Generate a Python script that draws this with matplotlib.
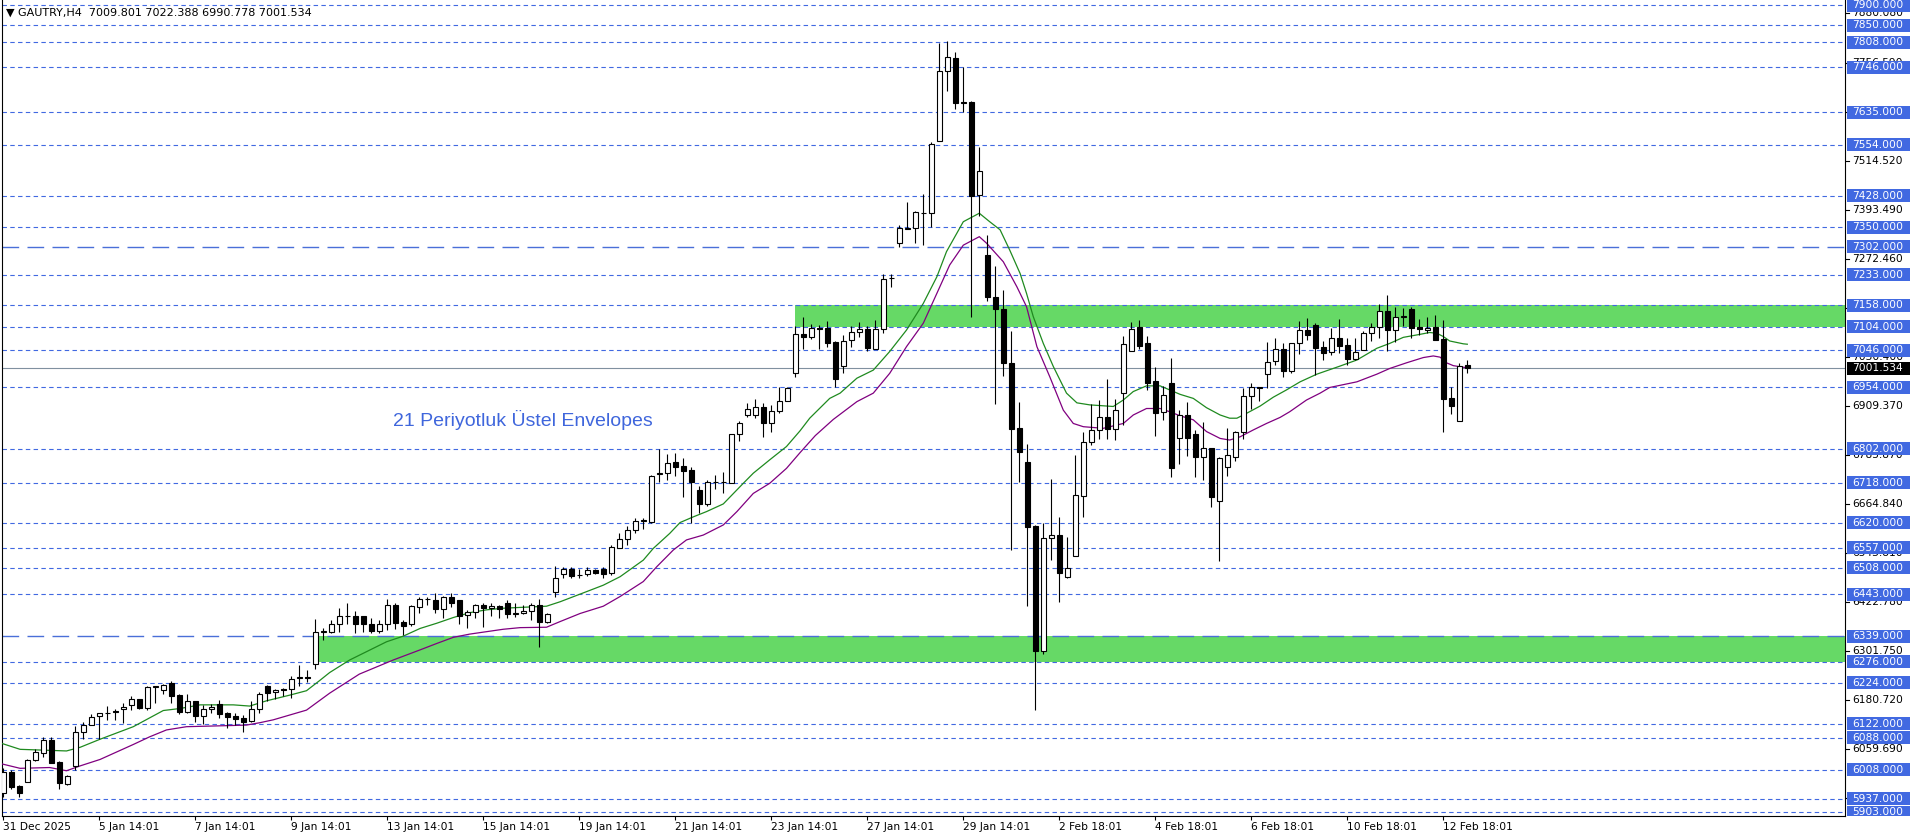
import matplotlib
matplotlib.use("Agg")
import matplotlib.pyplot as plt
from matplotlib.patches import Rectangle

# ---- GAUTRY H4 bars ----
opens = [5950, 6002, 5968, 5977, 6032, 6051, 6081, 6028, 5973, 6018,
         6101, 6118, 6141, 6148, 6153, 6158, 6168, 6183, 6162, 6214,
         6206, 6224, 6194, 6152, 6178, 6142, 6158, 6171, 6150, 6141,
         6136, 6128, 6158, 6216, 6200, 6209, 6207, 6235, 6239, 6269,
         6350, 6348, 6368, 6389, 6389, 6389, 6370, 6352, 6369, 6417,
         6373, 6370, 6412, 6430, 6428, 6405, 6436, 6428, 6391, 6399,
         6415, 6408, 6413, 6422, 6394, 6395, 6402, 6415, 6375, 6449,
         6493, 6505, 6490, 6493, 6502, 6505, 6496, 6558, 6578, 6601,
         6624, 6622, 6740, 6742, 6769, 6759, 6750, 6700, 6665, 6720,
         6720, 6718, 6838, 6886, 6887, 6905, 6865, 6895, 6920, 6991,
         7086, 7078, 7100, 7100, 7066, 7006, 7071, 7092, 7098, 7048,
         7098, 7224, 7311, 7345, 7348, 7386, 7385, 7564, 7736, 7768,
         7659, 7661, 7429, 7282, 7177, 7148, 7014, 6853, 6770, 6611,
         6303, 6581, 6589, 6486, 6536, 6686, 6818, 6848, 6880, 6851,
         6940, 7045, 7103, 7063, 6970, 6893, 6964, 6828, 6885, 6838,
         6781, 6804, 6674, 6757, 6783, 6843, 6932, 6954, 6987, 7020,
         7048, 6996, 7063, 7096, 7108, 7053, 7041, 7076, 7059, 7024,
         7047, 7088, 7103, 7144, 7095, 7129, 7147, 7103, 7095, 7104,
         7073, 6928, 6872, 7009.801]
highs = [6014, 6008, 5971, 6035, 6061, 6090, 6090, 6031, 5995, 6117,
         6126, 6146, 6148, 6167, 6158, 6173, 6192, 6184, 6216, 6216,
         6220, 6228, 6196, 6196, 6179, 6169, 6172, 6181, 6152, 6150,
         6144, 6179, 6202, 6217, 6208, 6211, 6240, 6267, 6255, 6381,
         6358, 6379, 6408, 6420, 6401, 6390, 6385, 6379, 6430, 6422,
         6380, 6416, 6436, 6436, 6445, 6438, 6445, 6429, 6403, 6418,
         6422, 6422, 6415, 6428, 6420, 6415, 6422, 6430, 6397, 6512,
         6509, 6509, 6504, 6509, 6504, 6511, 6564, 6593, 6611, 6631,
         6632, 6737, 6803, 6789, 6793, 6779, 6758, 6710, 6725, 6737,
         6746, 6840, 6871, 6915, 6925, 6915, 6910, 6956, 6956, 7106,
         7129, 7111, 7109, 7119, 7070, 7084, 7107, 7115, 7106, 7121,
         7235, 7235, 7356, 7414, 7391, 7433, 7562, 7807, 7812, 7785,
         7746, 7663, 7548, 7331, 7255, 7195, 7094, 6918, 6814, 6614,
         6618, 6728, 6634, 6585, 6787, 6844, 6913, 6923, 6974, 6926,
         7081, 7117, 7121, 7081, 7004, 6958, 7026, 6898, 6917, 6849,
         6868, 6804, 6781, 6855, 6846, 6952, 6964, 6954, 7066, 7076,
         7065, 7063, 7118, 7127, 7113, 7069, 7102, 7123, 7077, 7077,
         7094, 7113, 7160, 7183, 7152, 7151, 7154, 7123, 7129, 7133,
         7121, 6956, 7015, 7022.388]
lows = [5942, 5960, 5940, 5977, 6031, 6041, 6024, 5962, 5971, 6008,
        6084, 6118, 6084, 6131, 6131, 6123, 6157, 6158, 6156, 6174,
        6195, 6174, 6147, 6150, 6127, 6122, 6150, 6136, 6111, 6119,
        6101, 6127, 6150, 6178, 6183, 6192, 6185, 6216, 6226, 6257,
        6329, 6346, 6350, 6369, 6346, 6350, 6346, 6346, 6354, 6356,
        6342, 6364, 6397, 6416, 6397, 6385, 6410, 6369, 6360, 6385,
        6362, 6389, 6385, 6385, 6387, 6394, 6379, 6313, 6372, 6436,
        6482, 6484, 6484, 6488, 6493, 6482, 6490, 6556, 6564, 6593,
        6605, 6619, 6719, 6725, 6736, 6684, 6619, 6644, 6662, 6702,
        6694, 6717, 6822, 6880, 6879, 6831, 6845, 6890, 6920, 6979,
        7048, 7075, 7048, 7053, 6954, 6991, 7053, 7078, 7043, 7048,
        7088, 7203, 7302, 7345, 7311, 7306, 7352, 7564, 7687, 7642,
        7636, 7128, 7377, 7169, 6912, 6982, 6552, 6721, 6414, 6156,
        6295, 6527, 6423, 6484, 6536, 6634, 6812, 6827, 6826, 6824,
        6861, 7043, 7049, 6949, 6834, 6874, 6733, 6764, 6785, 6733,
        6724, 6658, 6526, 6736, 6771, 6826, 6900, 6921, 6952, 7010,
        6981, 6991, 7038, 7071, 6985, 7022, 7034, 7040, 7010, 7022,
        7047, 7070, 7077, 7043, 7067, 7107, 7076, 7084, 7088, 7071,
        6845, 6888, 6872, 6990.778]
closes = [6002, 5965, 5952, 6032, 6052, 6081, 6026, 5975, 5992, 6101,
          6118, 6140, 6148, 6150, 6152, 6164, 6183, 6162, 6213, 6215,
          6218, 6192, 6152, 6178, 6142, 6159, 6164, 6147, 6140, 6135,
          6127, 6158, 6196, 6199, 6205, 6205, 6234, 6237, 6236, 6348,
          6351, 6368, 6389, 6390, 6368, 6370, 6352, 6368, 6417, 6372,
          6364, 6413, 6430, 6431, 6405, 6436, 6420, 6389, 6399, 6415,
          6408, 6413, 6405, 6394, 6395, 6402, 6415, 6375, 6394, 6482,
          6504, 6488, 6491, 6502, 6496, 6493, 6559, 6578, 6601, 6623,
          6626, 6736, 6742, 6768, 6758, 6748, 6721, 6665, 6719, 6721,
          6721, 6838, 6865, 6901, 6906, 6865, 6895, 6920, 6952, 7086,
          7078, 7100, 7099, 7065, 6976, 7070, 7092, 7098, 7051, 7098,
          7222, 7225, 7348, 7348, 7387, 7385, 7555, 7736, 7771, 7657,
          7658, 7428, 7490, 7177, 7147, 7014, 6852, 6795, 6610, 6303,
          6581, 6588, 6496, 6507, 6687, 6818, 6848, 6880, 6851, 6898,
          7061, 7098, 7057, 6966, 6892, 6935, 6754, 6885, 6828, 6783,
          6804, 6684, 6779, 6786, 6843, 6932, 6954, 6952, 7016, 7048,
          6996, 7063, 7096, 7084, 7052, 7040, 7076, 7057, 7024, 7041,
          7088, 7103, 7144, 7095, 7129, 7130, 7102, 7099, 7102, 7071,
          6926, 6907, 7008, 7001.534]

date_labels = ["31 Dec 2025", "5 Jan 14:01", "7 Jan 14:01", "9 Jan 14:01",
               "13 Jan 14:01", "15 Jan 14:01", "19 Jan 14:01", "21 Jan 14:01",
               "23 Jan 14:01", "27 Jan 14:01", "29 Jan 14:01", "2 Feb 18:01",
               "4 Feb 18:01", "6 Feb 18:01", "10 Feb 18:01", "12 Feb 18:01"]

# 21 period exponential envelopes (green upper / purple lower)
env_up_x = [-0.4, 2.1, 5, 7.9, 9.6, 12.1, 16.25, 20, 22.1, 24.6, 28.75, 30.8, 32.9,
            35.8, 37.9, 39.6, 40.8, 43.3, 47.9, 50, 52.1, 54.2, 56.25, 58.3, 60.4,
            62.5, 64.6, 67.9, 69.6, 72.9, 75, 77.1, 80, 81.25, 83.3, 84.6, 86.25,
            87.9, 90, 92.5, 93.75, 95.8, 97.9, 99.6, 100.8, 103.3, 104.6, 106.7,
            108.75, 110.8, 112.9, 115, 116.7, 117.9, 120, 122, 123.3, 124.6, 125.8,
            127.1, 127.9, 128.75, 130, 131.25, 132.9, 134.2, 135.8, 138.75, 140,
            141.25, 142.9, 144.6, 145.8, 147.1, 148.75, 150.4, 152.1, 153.3, 154.2,
            155.4, 157.1, 158.75, 160.4, 162.1, 164.2, 167.1, 169.2, 171.7, 173.3,
            175, 176.7, 178.3, 179.2, 180, 180.8, 182.5, 183]
env_up = [6075, 6059, 6057, 6055, 6064, 6084, 6115, 6155, 6160, 6169, 6169, 6166, 6179,
          6193, 6204, 6230, 6249, 6280, 6325, 6339, 6358, 6371, 6385, 6397, 6404,
          6408, 6410, 6413, 6424, 6449, 6465, 6486, 6527, 6556, 6593, 6620, 6634,
          6647, 6666, 6717, 6742, 6775, 6808, 6847, 6878, 6927, 6940, 6977,
          6997, 7043, 7096, 7162, 7228, 7290, 7364, 7385, 7364, 7344, 7294,
          7236, 7187, 7129, 7063, 7006, 6940, 6916, 6911, 6907, 6923,
          6944, 6958, 6958, 6948, 6937, 6927, 6904, 6886, 6878, 6878,
          6890, 6908, 6930, 6948, 6968, 6987, 7007, 7022, 7051, 7063,
          7078, 7084, 7090, 7088, 7080, 7069, 7062, 7061]
env_dn_x = [-0.4, 2.1, 5.8, 7.9, 9.6, 12.1, 16.25, 18.3, 20.4, 22.9, 28.75, 30.4, 32.1,
            33.75, 37.9, 40.8, 44.5, 48.75, 52.1, 54.2, 56.25, 58.3, 60.4, 62.5, 64.6,
            67.9, 69.6, 72.1, 75, 77.1, 80, 81.7, 83.75, 85.4, 87.5, 90, 91.7, 93.75,
            95.8, 97.9, 99.6, 101.5, 103.75, 106.7, 108.75, 110.8, 112.9, 115, 116.7,
            118.3, 120, 122, 122.9, 125, 126.7, 127.9, 129.2, 130.8, 132.5, 133.75,
            135, 137.5, 140, 141.25, 142.9, 144.6, 145.8, 147.1, 148.75, 150.4, 152.1,
            153.3, 154.6, 156.25, 157.9, 159.6, 160.8, 162.9, 164.6, 165.8, 169.2,
            171.7, 173.3, 175.4, 177.5, 178.75, 179.6, 180.4, 181.25, 182.5, 183]
env_dn = [6024, 6012, 6014, 6006, 6018, 6034, 6071, 6090, 6107, 6115, 6118, 6119, 6125,
          6132, 6156, 6198, 6245, 6280, 6305, 6321, 6336, 6344, 6350, 6356, 6360,
          6361, 6375, 6395, 6413, 6437, 6474, 6511, 6552, 6577, 6589, 6614, 6647, 6692,
          6717, 6754, 6793, 6835, 6875, 6919, 6940, 6989, 7055, 7113, 7187,
          7257, 7306, 7327, 7311, 7265, 7203, 7154, 7055, 6981, 6898, 6865,
          6857, 6853, 6865, 6886, 6902, 6902, 6894, 6884, 6874, 6845, 6828,
          6824, 6832, 6849, 6865, 6880, 6894, 6923, 6940, 6954, 6968,
          6987, 7001, 7015, 7028, 7032, 7029, 7015, 7008, 7004, 7003]

# horizontal line objects
dotted_levels = [7900, 7850, 7808, 7746, 7635, 7554, 7428, 7350, 7233, 7158, 7104,
                 7046, 6954, 6802, 6718, 6620, 6557, 6508, 6443, 6276, 6224, 6122,
                 6088, 6008, 5937, 5903]
dashed_levels = [7302, 6339]
# rectangles: start bar, low, high
zone_start = [99, 39.4]
zone_low = [7104, 6276]
zone_high = [7158, 6339]
# price scale labels
scale_ticks = [7880.080, 7756.590, 7635.550, 7514.520, 7393.490, 7272.460, 7151.430,
               7030.400, 6909.370, 6785.870, 6664.840, 6543.810, 6422.780, 6301.750,
               6180.720, 6059.690, 5938.660]
last_price = 7001.534
title = "\u25bc GAUTRY,H4  7009.801 7022.388 6990.778 7001.534"

# ---- layout (pixels) ----
W, H = 1916, 840
plot_l, plot_r, plot_b = 2, 1845, 816
bar_px, bar0_px = 8, 3.3
y_top, y_bot = 7912.4, 5894.1
ppu = plot_b / (y_top - y_bot)

blue = "#4169e1"
fig = plt.figure(figsize=(W / 100, H / 100), dpi=100)
ax = fig.add_axes([plot_l / W, (H - plot_b) / H, (plot_r - plot_l) / W, plot_b / H])
ax.set_xlim((plot_l - bar0_px) / bar_px, (plot_r - bar0_px) / bar_px)
ax.set_ylim(y_bot, y_top)

for s, lo, hi in zip(zone_start, zone_low, zone_high):
    ax.add_patch(Rectangle((s, lo), 500, hi - lo, facecolor="#66d966",
                           edgecolor="none", zorder=1))
for v in dotted_levels:
    ax.axhline(v, color=blue, lw=0.8, ls=(0, (4, 3)), zorder=2)
for v in dashed_levels:
    ax.axhline(v, color="#4a6fd8", lw=1.0, ls=(0, (12, 6)), zorder=2)
ax.axhline(last_price, color="#8090a0", lw=0.8, zorder=2)

ax.plot(env_up_x, env_up, color="#1f8a1f", lw=0.9, zorder=3)
ax.plot(env_dn_x, env_dn, color="#800080", lw=0.9, zorder=3)

for i, (o, h, l, c) in enumerate(zip(opens, highs, lows, closes)):
    ax.vlines(i, l, h, color="black", lw=0.8, zorder=4)
    face = "white" if c >= o else "black"
    ax.add_patch(Rectangle((i - 0.28, min(o, c)), 0.56, abs(c - o), facecolor=face,
                           edgecolor="black", lw=0.8, zorder=5))

ax.set_xticks(range(0, len(date_labels) * 12, 12))
ax.set_xticklabels(date_labels, ha="left")
ax.tick_params(axis="x", length=3, width=0.8, pad=1.5, labelsize=7.7)
ax.set_yticks([])
ax.spines["top"].set_visible(False)
for s in ("left", "bottom", "right"):
    ax.spines[s].set_linewidth(0.8)

# right price scale
rax = fig.add_axes([plot_r / W, (H - plot_b) / H, (W - plot_r) / W, plot_b / H])
rax.set_xlim(0, W - plot_r)
rax.set_ylim(y_bot, y_top)
rax.axis("off")
half = 6.5 / ppu
for v in scale_ticks:
    rax.plot([0, 4], [v, v], color="black", lw=0.8)
    rax.text(7, v, f"{v:.3f}", va="center", fontsize=7.7, color="black", zorder=2)
for v in dotted_levels + dashed_levels:
    rax.add_patch(Rectangle((1.5, v - half), 63.5, 2 * half, facecolor=blue,
                            edgecolor="none", zorder=3))
    rax.text(7, v, f"{v:.3f}", va="center", fontsize=7.7, color="white", zorder=4)
rax.add_patch(Rectangle((1.5, last_price - half), 63.5, 2 * half, facecolor="black",
                        edgecolor="none", zorder=5))
rax.text(7, last_price, f"{last_price:.3f}", va="center", fontsize=7.7,
         color="white", zorder=6)

fig.text(6 / W, 1 - 13 / H, title, fontsize=8, va="center")
fig.text(393 / W, 1 - 426 / H, "21 Periyotluk \u00dcstel Envelopes", fontsize=14,
         family="Liberation Sans", color="#3f66dc", va="baseline")

fig.savefig("out.png", dpi=100)
